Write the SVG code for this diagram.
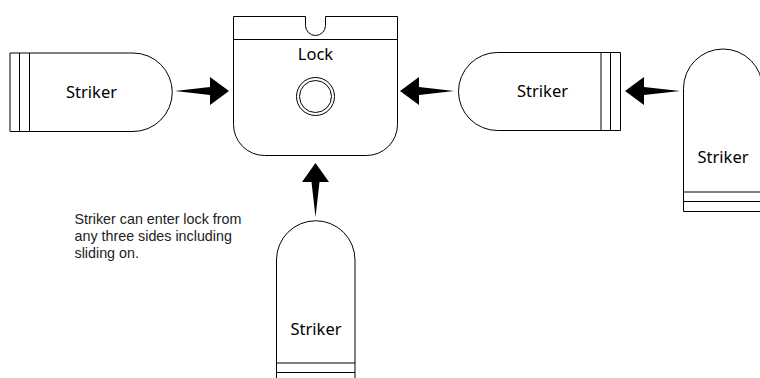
<svg xmlns="http://www.w3.org/2000/svg" width="760" height="378" viewBox="0 0 760 378">
<style>
.s{fill:#fff;stroke:#000;stroke-width:1}
.l{fill:none;stroke:#000;stroke-width:1}
.t{font-family:"Noto Sans","Open Sans",sans-serif;font-size:16.5px;fill:#000;text-anchor:middle}
.n{font-family:"Liberation Sans",Arial,sans-serif;font-size:14.3px;fill:#222}
.a{fill:#000}
</style>
<rect width="760" height="378" fill="#fff"/>
<g id="lock">
<path class="s" d="M233.500 16.500H305.500V25.500A10 10 0 0 0 325.500 25.500V16.500H397.500V124.500A31 31 0 0 1 366.500 155.500H264.500A31 31 0 0 1 233.500 124.500Z"/>
<path class="l" d="M233.500 39.500H397.500"/>
<circle class="l" cx="315.500" cy="96.500" r="19"/>
<circle class="l" cx="315.500" cy="96.500" r="16"/>
<text class="t" x="315.500" y="60">Lock</text>
</g>
<g id="striker-left">
<path class="s" d="M10 53H133A39 39 0 0 1 133 131.500H10Z"/>
<path class="l" d="M19.500 53V131.500M29.500 53V131.500"/>
<text class="t" x="91.500" y="97.500">Striker</text>
</g>
<g id="striker-right">
<path class="s" d="M620.500 52.500H497.500A39 39 0 0 0 497.500 130.500H620.500Z"/>
<path class="l" d="M601 52.500V130.500M610.500 52.500V130.500"/>
<text class="t" x="542.500" y="97">Striker</text>
</g>
<g id="striker-far-right">
<path class="s" d="M683.500 211.500V88.500A39.500 39.500 0 0 1 762.500 88.500V211.500Z"/>
<path class="l" d="M683.500 192H762M683.500 201.500H762"/>
<text class="t" x="723" y="163">Striker</text>
</g>
<g id="striker-bottom">
<path class="s" d="M276.500 379V260A39.250 39.250 0 0 1 355 260V379"/>
<path class="l" d="M276.500 363H355M276.500 372.500H355"/>
<text class="t" x="316" y="334.500">Striker</text>
</g>
<g id="note">
<text class="n" x="74.500" y="224">Striker can enter lock from</text>
<text class="n" x="74.500" y="241">any three sides including</text>
<text class="n" x="74.500" y="258">sliding on.</text>
</g>
<g id="connectors">
<path class="a" d="M175 91L210 87V77L229 91L210 105V95Z"/>
<path class="a" d="M454 91L419 87V77L400 91L419 105V95Z"/>
<path class="a" d="M680 91L644 87V77L625 91L644 105V95Z"/>
<path class="a" d="M315.500 217L311.500 182H302L315.500 163L329 182H319.500Z"/>
</g>
</svg>
